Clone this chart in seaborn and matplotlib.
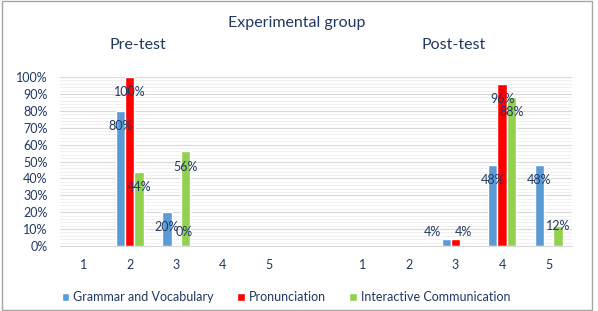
import numpy as np
import pandas as pd
import seaborn as sns
import matplotlib.pyplot as plt
from matplotlib.patches import Rectangle
from matplotlib.ticker import MultipleLocator, FuncFormatter

# Chart data (percent of students per score)
scores = ['1', '2', '3', '4', '5']
series = ['Grammar and Vocabulary', 'Pronunciation', 'Interactive Communication']
colors = ['#5B9BD5', '#FF0000', '#92D050']

grammar_pre = [np.nan, 80, 20, np.nan, np.nan]
pron_pre = [np.nan, 100, 0, np.nan, np.nan]
inter_pre = [np.nan, 44, 56, np.nan, np.nan]

grammar_post = [np.nan, np.nan, 4, 48, 48]
pron_post = [np.nan, np.nan, 4, 96, np.nan]
inter_post = [np.nan, np.nan, np.nan, 88, 12]

# Build long table, one empty slot between the two tests
slots = ['pre' + s for s in scores] + ['gap'] + ['post' + s for s in scores]
tick_labels = scores + [''] + scores

rows = []
for name, pre, post in zip(series,
                           [grammar_pre, pron_pre, inter_pre],
                           [grammar_post, pron_post, inter_post]):
    for s, v in zip(scores, pre):
        rows.append({'slot': 'pre' + s, 'series': name, 'value': v})
    for s, v in zip(scores, post):
        rows.append({'slot': 'post' + s, 'series': name, 'value': v})
df = pd.DataFrame(rows).dropna()

sns.set_style('white')
plt.rcParams['font.family'] = ['Lato', 'DejaVu Sans']
text_col = '#203864'

fig = plt.figure(figsize=(5.98, 3.11), dpi=100)
ax = fig.add_axes([0.1003, 0.209, 0.856, 0.5434])

sns.barplot(data=df, x='slot', y='value', hue='series', order=slots,
            hue_order=series, palette=colors, width=0.6, saturation=1,
            errorbar=None, ax=ax)

# Data labels, Excel "inside end" style; tiny bars get labels nudged apart
nudge = [-10, 6, 0]
for i, cont in enumerate(ax.containers):
    for p in cont:
        h = p.get_height()
        if np.isnan(h):
            continue
        y = h - 9 if h >= 20 else max(h, 8.3)
        dx = nudge[i] if h < 10 else 0
        ax.annotate(f'{h:.0f}%', (p.get_x() + p.get_width() / 2, y),
                    xytext=(dx, 0), textcoords='offset points',
                    ha='center', va='center', fontsize=9, color=text_col)

ax.set_xlim(-0.5, len(slots) - 0.5)
ax.set_ylim(0, 100)
ax.yaxis.set_major_locator(MultipleLocator(10))
ax.yaxis.set_minor_locator(MultipleLocator(2))
ax.yaxis.set_major_formatter(FuncFormatter(lambda v, _: f'{v:.0f}%'))
ax.set_xticks(range(len(slots)))
ax.set_xticklabels(tick_labels)
ax.set_xlabel('')
ax.set_ylabel('')
ax.tick_params(axis='both', length=0, labelsize=9, labelcolor=text_col)
ax.tick_params(axis='x', pad=9)
ax.tick_params(axis='y', pad=9)
ax.grid(axis='y', which='major', color='#D9D9D9', linewidth=0.8)
ax.grid(axis='y', which='minor', color='#EEEEEE', linewidth=0.6)
ax.set_axisbelow(True)
for side in ['top', 'right', 'left']:
    ax.spines[side].set_visible(False)
ax.spines['bottom'].set_color('#D9D9D9')

# Titles
fig.text(0.497, 0.926, 'Experimental group', ha='center', va='center',
         fontsize=11.5, color=text_col)
fig.text(0.231, 0.855, 'Pre-test', ha='center', va='center',
         fontsize=11.5, color=text_col)
fig.text(0.758, 0.855, 'Post-test', ha='center', va='center',
         fontsize=11.5, color=text_col)

# Legend
handles, labels = ax.get_legend_handles_labels()
ax.legend(handles, labels, loc='center', bbox_to_anchor=(0.478, 0.045),
          bbox_transform=fig.transFigure, ncol=3, frameon=False,
          fontsize=9, handlelength=0.6, handleheight=0.6,
          handletextpad=0.3, columnspacing=1.9, labelcolor=text_col)

# Chart area border
fig.patches.append(Rectangle((0.004, 0.004), 0.986, 0.992, fill=False,
                             edgecolor='#A6A6A6', linewidth=1,
                             transform=fig.transFigure, figure=fig))

fig.savefig('out.png', dpi=100)
